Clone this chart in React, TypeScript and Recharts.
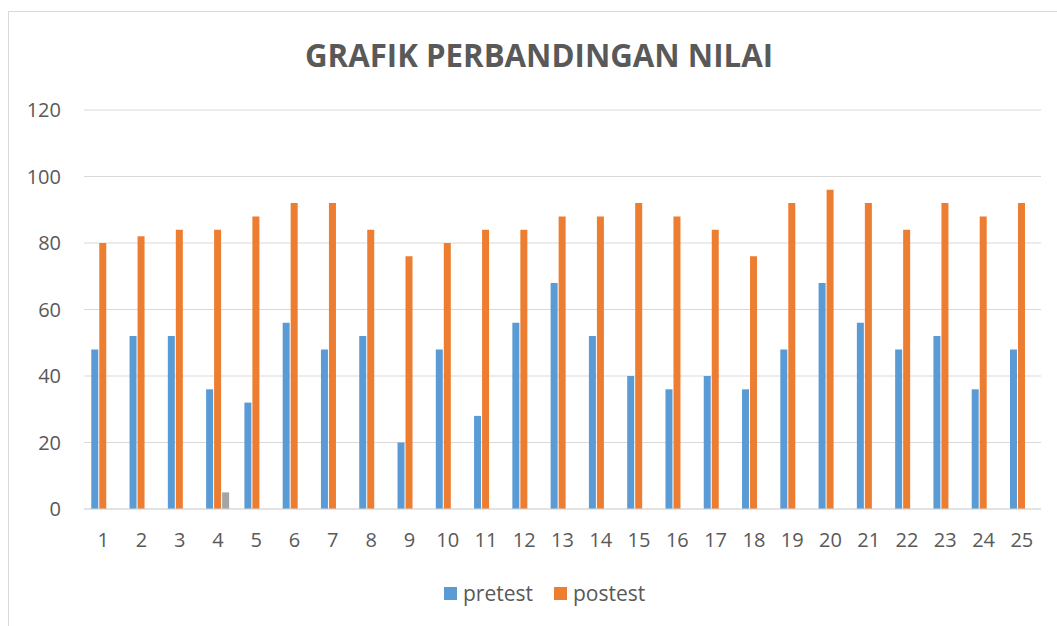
import { BarChart, Bar, XAxis, YAxis, CartesianGrid, Legend } from 'recharts';

const students = Array.from({ length: 25 }, (_, i) => String(i + 1));
const pretest = [48, 52, 52, 36, 32, 56, 48, 52, 20, 48, 28, 56, 68, 52, 40, 36, 40, 36, 48, 68, 56, 48, 52, 36, 48];
const postest = [80, 82, 84, 84, 88, 92, 92, 84, 76, 80, 84, 84, 88, 88, 92, 88, 84, 76, 92, 96, 92, 84, 92, 88, 92];
// stray third series in the source sheet, only one cell filled
const extra = [null, null, null, 5, null, null, null, null, null, null, null, null, null, null, null, null, null, null, null, null, null, null, null, null, null];
const yTicks = [0, 20, 40, 60, 80, 100, 120];
const legendOrder = ['pretest', 'postest'];

const data = students.map((name, i) => ({
  name,
  pretest: pretest[i],
  postest: postest[i],
  extra: extra[i],
}));

const FONT = '"Open Sans", sans-serif';
const TEXT = '#595959';

const LegendContent = ({ payload }: any) => {
  const items = legendOrder
    .map((key) => (payload || []).find((p: any) => p.dataKey === key))
    .filter(Boolean);
  return (
    <div style={{ height: 24, display: 'flex', justifyContent: 'flex-start', alignItems: 'center', paddingLeft: 435, fontFamily: FONT, fontSize: 21, color: TEXT }}>
      {items.map((p: any) => (
        <div key={p.value} style={{ display: 'flex', alignItems: 'center', marginRight: 21 }}>
          <span style={{ width: 13, height: 13, background: p.color, marginRight: 6, display: 'inline-block' }} />
          <span>{p.value}</span>
        </div>
      ))}
    </div>
  );
};

export default function App() {
  return (
    <div
      style={{
        position: 'fixed',
        left: 8,
        top: 11,
        width: 1049,
        height: 615,
        borderTop: '1px solid #d9d9d9',
        borderLeft: '1px solid #d9d9d9',
        background: '#fff',
      }}
    >
      <svg width={1048} height={80} style={{ position: 'absolute', left: 0, top: 0 }}>
        <text
          x={530}
          y={55}
          textAnchor="middle"
          textLength={468}
          lengthAdjust="spacingAndGlyphs"
          fontFamily={FONT}
          fontWeight="bold"
          fontSize={33}
          fill={TEXT}
        >
          GRAFIK PERBANDINGAN NILAI
        </text>
      </svg>
      <BarChart
        width={1048}
        height={614}
        data={data}
        margin={{ top: 98, right: 16, bottom: 21, left: 0 }}
        barCategoryGap="19%"
        barGap={1}
      >
        <CartesianGrid vertical={false} stroke="#d9d9d9" />
        <XAxis
          dataKey="name"
          height={72}
          tickLine={false}
          tickMargin={18}
          axisLine={{ stroke: '#d9d9d9' }}
          tick={{ fill: TEXT, fontSize: 20, fontFamily: FONT }}
          interval={0}
        />
        <YAxis
          width={75}
          domain={[0, 120]}
          ticks={yTicks}
          axisLine={false}
          tickLine={false}
          tickMargin={17}
          tick={{ fill: TEXT, fontSize: 20, fontFamily: FONT }}
        />
        <Legend verticalAlign="bottom" content={<LegendContent />} />
        <Bar dataKey="pretest" name="pretest" fill="#5B9BD5" isAnimationActive={false} />
        <Bar dataKey="postest" name="postest" fill="#ED7D31" isAnimationActive={false} />
        <Bar dataKey="extra" name="extra" fill="#A5A5A5" legendType="none" isAnimationActive={false} />
      </BarChart>
    </div>
  );
}
